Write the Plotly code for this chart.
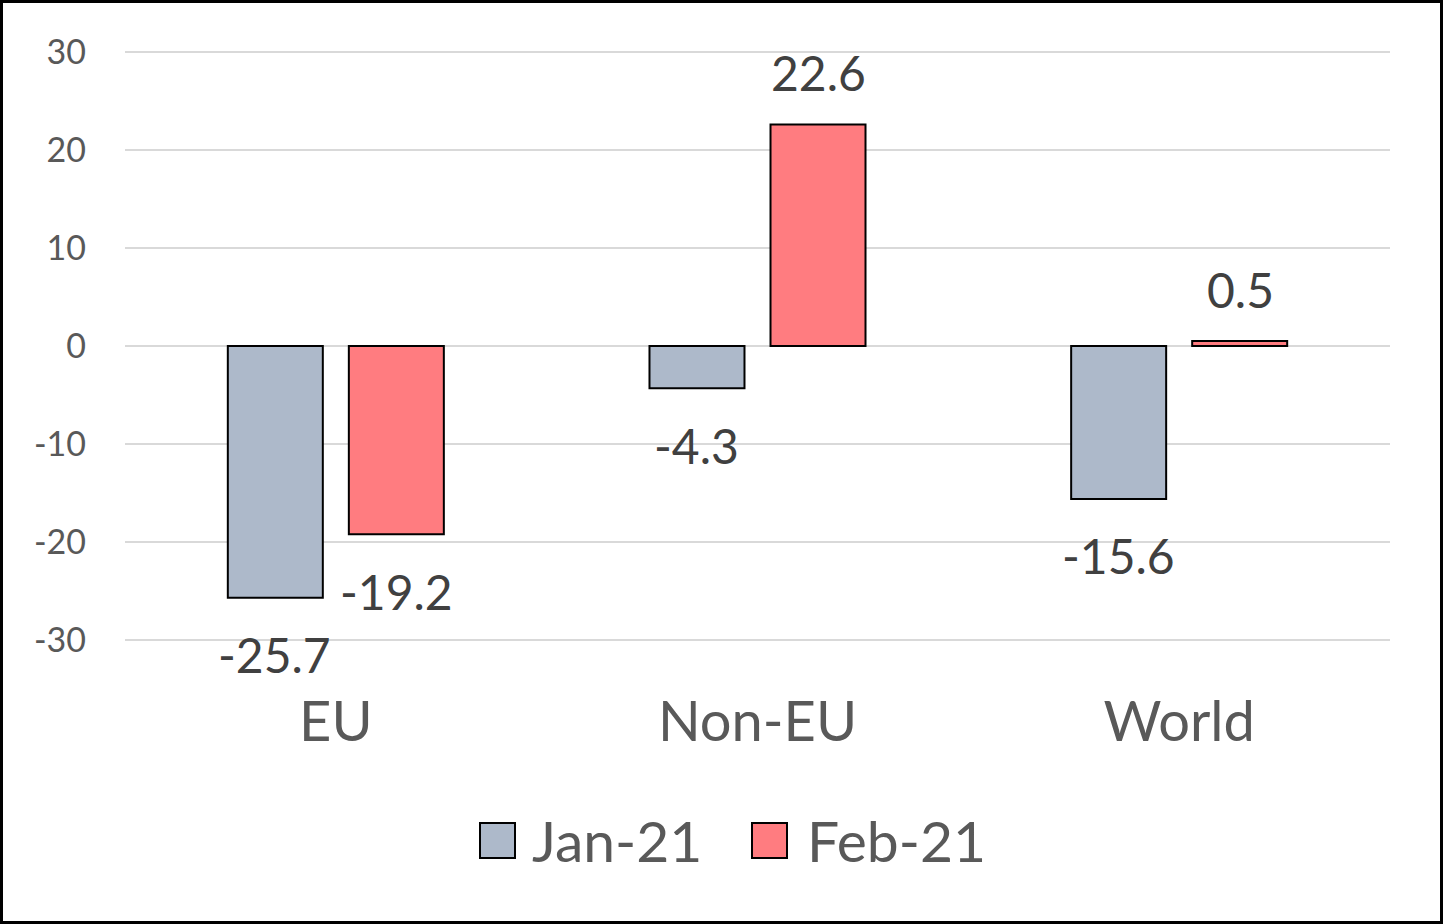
import plotly.graph_objects as go

categories = ["EU", "Non-EU", "World"]
series_names = ["Jan-21", "Feb-21"]
jan_values = [-25.7, -4.3, -15.6]
feb_values = [-19.2, 22.6, 0.5]
y_ticks = [-30, -20, -10, 0, 10, 20, 30]

colors = ["#ADB9CA", "#FF7C80"]
font_family = "Lato, 'Open Sans', sans-serif"
label_color = "#404040"
tick_color = "#595959"
grid_color = "#D9D9D9"

W, H = 1443, 924
# plot area spans the -30..30 grid (y=30 at 52px, y=-30 at 640px) plus a little pad
pad = 5
L, R, T, B = 125, 53, 52 - pad, 284 - pad
pw, ph = W - L - R, H - T - B


def px(x):
    return (x - L) / pw


def py(y):
    return (H - B - y) / ph


fig = go.Figure()
for name, vals, col in zip(series_names, [jan_values, feb_values], colors):
    fig.add_trace(go.Bar(
        x=categories, y=vals, name=name, showlegend=False,
        marker=dict(color=col, line=dict(color="black", width=2)),
    ))

# data labels sit well away from the bar ends, Excel style
for i, vals in enumerate([jan_values, feb_values]):
    shift_x = -61 if i == 0 else 61
    for cat, v in zip(categories, vals):
        fig.add_annotation(
            x=cat, y=v, xref="x", yref="y",
            text=f"{v:.1f}", showarrow=False,
            xshift=shift_x, yshift=52 if v >= 0 else -57,
            font=dict(size=48, color=label_color, family=font_family),
        )

# legend drawn by hand so the swatches can be as large as in the original
legend_pos = [(480, 530), (752, 805)]
for (sx, tx), name, col in zip(legend_pos, series_names, colors):
    fig.add_shape(
        type="rect", xref="paper", yref="paper",
        x0=px(sx), x1=px(sx + 35), y0=py(858), y1=py(823),
        line=dict(color="black", width=2), fillcolor=col,
    )
    fig.add_annotation(
        x=px(tx), y=py(840), xref="paper", yref="paper",
        text=name, showarrow=False, xanchor="left", yanchor="middle",
        font=dict(size=57, color=tick_color, family=font_family),
    )

# outer chart border
fig.add_shape(
    type="rect", xref="paper", yref="paper",
    x0=px(1.5), x1=px(W - 1.5), y0=py(H - 1.5), y1=py(1.5),
    line=dict(color="black", width=3), fillcolor="rgba(0,0,0,0)",
)

span = 30 + pad / 9.8
fig.update_layout(
    width=W, height=H,
    margin=dict(l=L, r=R, t=T, b=B),
    paper_bgcolor="white", plot_bgcolor="white",
    barmode="group", bargap=0.426, bargroupgap=0.215,
    font=dict(family=font_family, color=tick_color),
    showlegend=False,
)
fig.update_xaxes(
    showgrid=False, showline=False, ticks="",
    tickfont=dict(size=56, color=tick_color), ticklabelstandoff=39,
)
fig.update_yaxes(
    range=[-span, span], tickvals=y_ticks, ticktext=[str(t) for t in y_ticks],
    showline=False, zeroline=True,
    zerolinecolor=grid_color, zerolinewidth=2,
    gridcolor=grid_color, gridwidth=2, ticks="",
    tickfont=dict(size=34, color=tick_color), ticklabelstandoff=38,
)

fig.write_html(
    "out.html",
    config={"displayModeBar": False},
    post_script="document.body.style.margin='0';",
)
